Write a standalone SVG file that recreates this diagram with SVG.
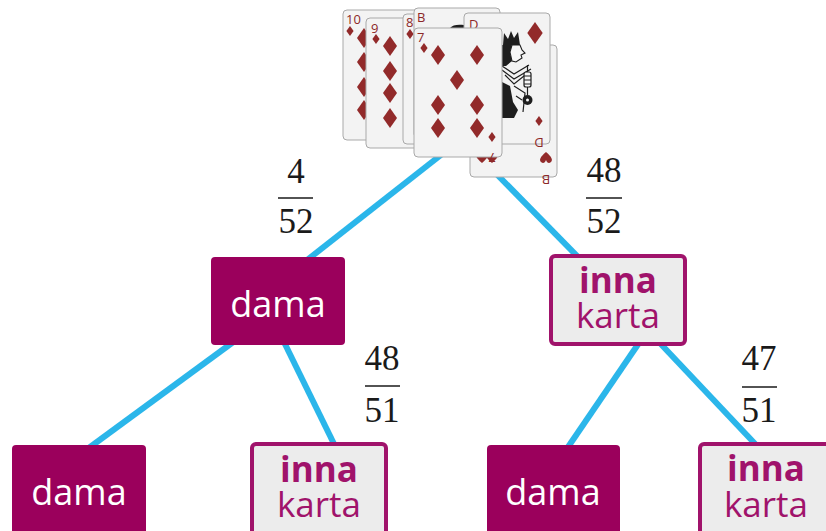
<svg xmlns="http://www.w3.org/2000/svg" width="826" height="531" viewBox="0 0 826 531">
  <style>
    .edge { stroke: #2bb6ea; stroke-width: 6; stroke-linecap: butt; fill: none; }
    .solid rect { fill: #9b005c; }
    .solid text { fill: #ffffff; font-family: "Open Sans", "Liberation Sans", sans-serif; font-size: 36px; text-anchor: middle; }
    .outline rect { fill: #ececec; stroke: #a0136b; stroke-width: 4; }
    .outline text { fill: #a0136b; font-family: "Open Sans", "Liberation Sans", sans-serif; font-size: 35px; text-anchor: middle; }
    .outline .b { font-weight: 700; }
    .frac text { font-family: "Liberation Serif", "DejaVu Serif", serif; font-size: 35px; fill: #1a1a1a; text-anchor: middle; }
    .frac line { stroke: #1a1a1a; stroke-width: 1.6; }
    .card { fill: #f3f3f3; stroke: #a9a9a9; stroke-width: 1; }
    .rank { font-family: "Open Sans", "Liberation Sans", sans-serif; font-size: 13px; fill: #8c2828; }
    .red { fill: #922a2a; }
    .ink { fill: #1e1e1e; }
    .line-art { fill: none; stroke: #1e1e1e; stroke-width: 1.2; }
  </style>
  <defs>
    <path id="pip" d="M0,-10 L7,0 L0,10 L-7,0 Z"/>
    <path id="spip" d="M0,-5 L3.6,0 L0,5 L-3.6,0 Z"/>
    <path id="heart" d="M0,5 C-6,0 -7,-3 -5,-5 C-3,-7 -1,-6 0,-3 C1,-6 3,-7 5,-5 C7,-3 6,0 0,5 Z"/>
  </defs>

  <!-- connectors -->
  <g id="connectors">
    <line class="edge" x1="460" y1="140" x2="302" y2="264"/>
    <line class="edge" x1="473" y1="150" x2="580" y2="259"/>
    <line class="edge" x1="236" y1="340" x2="86" y2="450"/>
    <line class="edge" x1="283" y1="340" x2="336" y2="448"/>
    <line class="edge" x1="641" y1="340" x2="566" y2="450"/>
    <line class="edge" x1="657" y1="340" x2="759" y2="448"/>
  </g>

  <!-- deck of cards at the root -->
  <g id="deck">
    <!-- ten of diamonds -->
    <rect class="card" x="343" y="10" width="88" height="130" rx="4"/>
    <text class="rank" x="346" y="24" font-size="12">10</text>
    <use href="#spip" class="red" x="350" y="31"/>
    <g class="red">
      <use href="#pip" x="364" y="38"/>
      <use href="#pip" x="364" y="62"/>
      <use href="#pip" x="364" y="87"/>
      <use href="#pip" x="364" y="110"/>
    </g>
    <!-- nine of diamonds -->
    <rect class="card" x="366" y="18" width="88" height="130" rx="4"/>
    <text class="rank" x="371" y="33">9</text>
    <use href="#spip" class="red" x="376" y="39"/>
    <g class="red">
      <use href="#pip" x="390" y="46"/>
      <use href="#pip" x="390" y="71"/>
      <use href="#pip" x="390" y="93"/>
      <use href="#pip" x="390" y="118"/>
    </g>
    <!-- eight of diamonds -->
    <rect class="card" x="403" y="14" width="88" height="130" rx="4"/>
    <text class="rank" x="406" y="27">8</text>
    <use href="#spip" class="red" x="410" y="34"/>
    <!-- jack of diamonds -->
    <rect class="card" x="414" y="8" width="86" height="130" rx="4"/>
    <text class="rank" x="417" y="22">B</text>
    <path class="ink" d="M450,28 C452,25 458,24 464,25 L464,29 L450,29 Z"/>
    <!-- jack of hearts, lying lower -->
    <rect class="card" x="470" y="45" width="87" height="132" rx="4"/>
    <use href="#heart" class="red" x="482" y="158"/>
    <use href="#heart" class="red" x="492" y="158"/>
    <use href="#heart" class="red" x="546" y="157" transform="rotate(180 546 157)"/>
    <text class="rank" x="546" y="165" transform="rotate(180 546 170)" text-anchor="middle">B</text>
    <!-- queen of diamonds -->
    <rect class="card" x="464" y="13" width="86" height="131" rx="4"/>
    <text class="rank" x="469" y="29">D</text>
    <use href="#pip" class="red" x="535" y="33" transform="translate(535 33) scale(1.1) translate(-535 -33)"/>
    <g id="queen-figure">
      <!-- crown -->
      <path class="ink" d="M503,45 L504,33 L508,39 L511,31 L514,38 L518,32 L520,45 Z"/>
      <!-- hair -->
      <path class="ink" d="M502,45 L512,45 L510,52 L512,61 L506,66 L502,66 Z"/>
      <!-- face in profile -->
      <path d="M512,45 L520,45 L522,50 L525,53 L521,55 L522,58 L516,62 L512,61 L510,52 Z" fill="#f6f6f6" stroke="#1e1e1e" stroke-width="1.1"/>
      <!-- collar -->
      <path class="line-art" d="M502,66 L514,74 L529,65 M502,70 L514,79 L531,69 M505,75 L514,84 L524,76"/>
      <!-- robe -->
      <path class="ink" d="M502,82 L510,86 L513,102 L518,110 L514,118 L502,118 Z"/>
      <path class="line-art" d="M514,86 L525,93 L523,112 M516,96 L522,100"/>
      <!-- hand and sceptre -->
      <rect x="524" y="72" width="7" height="15" rx="2" fill="#f6f6f6" stroke="#1e1e1e" stroke-width="1.2"/>
      <path class="line-art" d="M524,76 L531,76 M524,80 L531,80 M524,84 L531,84 M527.5,65 L527.5,72 M527.5,87 L527.5,95"/>
      <circle class="ink" cx="527.5" cy="100" r="5"/>
      <circle cx="527.5" cy="100" r="1.5" fill="#f6f6f6"/>
    </g>
    <use href="#spip" class="red" x="539" y="121"/>
    <text class="rank" x="539" y="130" transform="rotate(180 539 134)" text-anchor="middle">D</text>
    <!-- seven of diamonds -->
    <rect class="card" x="414" y="28" width="88" height="129" rx="4"/>
    <text class="rank" x="417" y="42">7</text>
    <use href="#spip" class="red" x="424" y="48"/>
    <g class="red">
      <use href="#pip" x="438" y="55"/>
      <use href="#pip" x="477" y="55"/>
      <use href="#pip" x="457" y="80"/>
      <use href="#pip" x="438" y="105"/>
      <use href="#pip" x="477" y="105"/>
      <use href="#pip" x="438" y="128"/>
      <use href="#pip" x="477" y="128"/>
    </g>
    <use href="#spip" class="red" x="492" y="137"/>
    <text class="rank" x="492" y="143" transform="rotate(180 492 148)" text-anchor="middle">7</text>
  </g>

  <!-- probabilities -->
  <g id="p-queen-1" class="frac">
    <text x="296" y="183">4</text>
    <line x1="278" y1="198" x2="313" y2="198"/>
    <text x="296" y="233">52</text>
  </g>
  <g id="p-other-1" class="frac">
    <text x="604" y="182">48</text>
    <line x1="586" y1="198" x2="622" y2="198"/>
    <text x="604" y="233">52</text>
  </g>
  <g id="p-other-2a" class="frac">
    <text x="382" y="370">48</text>
    <line x1="365" y1="386" x2="400" y2="386"/>
    <text x="382" y="422">51</text>
  </g>
  <g id="p-other-2b" class="frac">
    <text x="759" y="370">47</text>
    <line x1="742" y1="387" x2="777" y2="387"/>
    <text x="759" y="422">51</text>
  </g>

  <!-- outcome nodes -->
  <g id="n-queen" class="solid">
    <rect x="211" y="257" width="134" height="88" rx="4"/>
    <text x="278" y="317">dama</text>
  </g>
  <g id="n-other" class="outline">
    <rect x="551" y="256" width="134" height="88" rx="4"/>
    <text class="b" x="618" y="293">inna</text>
    <text x="618" y="328">karta</text>
  </g>
  <g id="n-queen-queen" class="solid">
    <rect x="12" y="445" width="134" height="92" rx="4"/>
    <text x="79" y="505">dama</text>
  </g>
  <g id="n-queen-other" class="outline">
    <rect x="252" y="444" width="134" height="92" rx="4"/>
    <text class="b" x="319" y="482">inna</text>
    <text x="319" y="517">karta</text>
  </g>
  <g id="n-other-queen" class="solid">
    <rect x="487" y="445" width="133" height="92" rx="4"/>
    <text x="553" y="505">dama</text>
  </g>
  <g id="n-other-other" class="outline">
    <rect x="700" y="444" width="134" height="92" rx="4"/>
    <text class="b" x="766" y="481">inna</text>
    <text x="766" y="517">karta</text>
  </g>
</svg>
